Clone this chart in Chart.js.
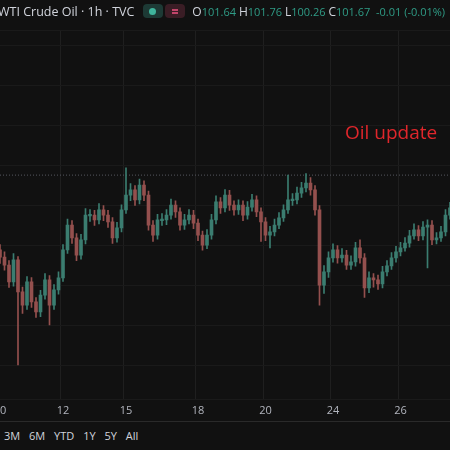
<!DOCTYPE html>
<html>
<head>
<meta charset="utf-8">
<script src="https://cdn.jsdelivr.net/npm/chart.js@4/dist/chart.umd.min.js"></script>
<style>
  html, body { margin: 0; padding: 0; background: #111111; }
  #wrap { position: relative; width: 450px; height: 450px; overflow: hidden; background: #111111;
          font-family: "Open Sans", "DejaVu Sans", sans-serif; }
  #chartBox { position: absolute; left: 0; top: 0; width: 450px; height: 421px; }
  .title { position: absolute; left: -2px; top: 3px; color: #d1d4dc; font-size: 12.5px; white-space: nowrap; }
  .title .dot { display: inline-block; width: 20px; height: 14px; border-radius: 4px; background: #1d3a35; vertical-align: -2px; margin-left: 9px; position: relative; }
  .title .dot:after { content: ""; position: absolute; left: 6px; top: 3.5px; width: 7px; height: 7px; border-radius: 50%; background: #3fb59c; }
  .title .eq { display: inline-block; width: 20px; height: 14px; border-radius: 4px; background: #3a1d25; vertical-align: -2px; margin-left: 2px; position: relative; }
  .title .eq:before, .title .eq:after { content: ""; position: absolute; left: 7px; width: 6px; height: 1.5px; background: #c2456a; }
  .title .eq:before { top: 5px; } .title .eq:after { top: 8px; }
  .title .ohlc { color: #2f9c86; margin-left: 7px; font-size: 11px; }
  .title .ohlc b { color: #d1d4dc; font-weight: normal; font-size: 12px; }
  .note { position: absolute; left: 345px; top: 119px; color: #e0262b; font-size: 19px; }
  .sep { position: absolute; left: 0; top: 421px; width: 450px; height: 1px; background: #2a2a2a; }
  .ranges { position: absolute; left: 4px; top: 428px; color: #d1d4dc; font-size: 11px; word-spacing: 6px; }
</style>
</head>
<body>
<div id="wrap">
  <div id="chartBox"><canvas id="c"></canvas></div>
  <div class="title">WTI Crude Oil · 1h · TVC<span class="dot"></span><span class="eq"></span><span class="ohlc"><b>O</b>101.64 <b>H</b>101.76 <b>L</b>100.26 <b>C</b>101.67 &nbsp;-0.01 (-0.01%)</span></div>
  <div class="note">Oil update</div>
  <div class="sep"></div>
  <div class="ranges">3M 6M YTD 1Y 5Y All</div>
</div>
<script>
// 시간축 라벨 (빈 문자열 = 라벨 없음)
const dayLabels = {0: '10', 14: '12', 28: '15', 44: '18', 59: '20', 74: '24', 89: '26'};

const firstOpen = 99.89;
const closes = [99.71, 99.51, 99.09, 99.64, 98.84, 98.51, 99.09, 98.59, 98.34, 98.76,
  99.14, 98.51, 98.89, 99.19, 99.89, 100.51, 100.19, 99.76, 100.14, 100.76,
  100.76, 100.64, 100.89, 100.76, 100.59, 100.19, 100.44, 100.89, 101.26, 101.39,
  101.14, 101.51, 101.26, 100.51, 100.26, 100.64, 100.64, 100.76, 101.01, 100.84,
  100.51, 100.64, 100.76, 100.56, 100.26, 100.01, 100.26, 100.64, 101.09, 100.94,
  101.26, 101.01, 100.89, 101.01, 100.76, 100.96, 101.14, 100.84, 100.59, 100.26,
  100.34, 100.51, 100.69, 100.89, 101.14, 101.14, 101.31, 101.44, 101.56, 101.39,
  100.89, 99.01, 99.34, 99.69, 99.89, 99.69, 99.76, 99.51, 99.59, 99.94,
  99.69, 98.94, 99.19, 99.14, 99.04, 99.34, 99.49, 99.69, 99.84, 99.94,
  100.06, 100.24, 100.39, 100.24, 100.46, 100.51, 100.14, 100.19, 100.34, 100.76, 100.94];
const highs = [100.02, 99.84, 99.62, 99.80, 99.72, 98.96, 99.22, 99.20, 98.70, 98.88,
  99.30, 99.25, 99.02, 99.34, 100.02, 100.66, 100.62, 100.30, 100.28, 100.92,
  100.90, 100.88, 101.05, 101.00, 100.88, 100.70, 100.58, 101.02, 101.94, 101.55,
  101.50, 101.66, 101.62, 101.36, 100.62, 100.78, 100.80, 100.90, 101.16, 101.12,
  100.94, 100.78, 100.90, 100.88, 100.66, 100.36, 100.40, 100.78, 101.24, 101.20,
  101.40, 101.38, 101.12, 101.14, 101.12, 101.10, 101.28, 101.24, 100.94, 100.70,
  100.48, 100.66, 100.82, 101.02, 101.76, 101.30, 101.46, 101.58, 101.80, 101.70,
  101.50, 101.00, 99.50, 99.84, 100.04, 100.00, 99.92, 99.88, 99.74, 100.08,
  100.14, 99.80, 99.34, 99.30, 99.26, 99.48, 99.62, 99.82, 99.98, 100.08,
  100.20, 100.38, 100.54, 100.50, 100.60, 100.64, 100.62, 100.32, 100.48, 100.90, 101.08];
const lows = [99.55, 99.38, 98.95, 98.98, 97.01, 98.30, 98.40, 98.45, 98.20, 98.22,
  98.66, 98.01, 98.40, 98.78, 99.10, 99.80, 100.05, 99.62, 99.66, 100.04,
  100.60, 100.50, 100.54, 100.62, 100.45, 100.05, 100.08, 100.34, 100.80, 101.12,
  101.00, 101.04, 101.12, 100.38, 100.10, 100.16, 100.50, 100.52, 100.66, 100.70,
  100.38, 100.40, 100.54, 100.42, 100.12, 99.88, 99.92, 100.16, 100.54, 100.80,
  100.84, 100.88, 100.76, 100.78, 100.62, 100.66, 100.86, 100.72, 100.10, 100.12,
  99.94, 100.24, 100.42, 100.60, 100.80, 101.00, 101.04, 101.20, 101.34, 101.26,
  100.76, 98.51, 98.80, 99.20, 99.58, 99.56, 99.58, 99.40, 99.40, 99.48,
  99.56, 98.70, 98.82, 98.96, 98.90, 98.94, 99.24, 99.40, 99.58, 99.74,
  99.86, 99.96, 100.16, 100.12, 100.14, 99.44, 100.02, 100.04, 100.10, 100.24, 100.66];
const lastHigh = 101.76; // 점선 기준가

const UP = '#3b7d70';
const DOWN = '#94504e';

const opens = closes.map((c, i) => i === 0 ? firstOpen : closes[i - 1]);
const labels = closes.map((c, i) => dayLabels[i] || '');
const colors = closes.map((c, i) => c >= opens[i] ? UP : DOWN);

new Chart(document.getElementById('c'), {
  type: 'bar',
  data: {
    labels: labels,
    datasets: [
      {
        label: 'wick',
        data: closes.map((c, i) => [lows[i], highs[i]]),
        backgroundColor: colors,
        barThickness: 1,
        grouped: false,
        order: 2
      },
      {
        label: 'body',
        data: closes.map((c, i) => opens[i] === c ? [c - 0.02, c + 0.02] : [opens[i], c]),
        backgroundColor: colors,
        barThickness: 3,
        grouped: false,
        order: 1
      },
      {
        type: 'line',
        label: 'high',
        data: closes.map(() => lastHigh),
        borderColor: '#55585f',
        borderWidth: 1,
        borderDash: [1, 2],
        pointRadius: 0,
        order: 3
      }
    ]
  },
  options: {
    animation: false,
    responsive: true,
    maintainAspectRatio: false,
    layout: { padding: { top: 30, left: 0, right: 0 } },
    plugins: { legend: { display: false }, tooltip: { enabled: false } },
    scales: {
      x: {
        offset: false,
        border: { display: false },
        grid: {
          color: ctx => (ctx.tick && ctx.tick.label) ? '#1f1f1f' : 'rgba(0,0,0,0)',
          drawTicks: false
        },
        ticks: {
          autoSkip: false,
          maxRotation: 0,
          color: '#b2b5be',
          font: { size: 11, family: 'Open Sans' },
          padding: 4
        },
        afterFit: s => { s.paddingLeft = 0; s.paddingRight = 0; }
      },
      y: {
        min: 96.14,
        max: 105.39,
        border: { display: false },
        grid: { color: '#1a1a1a', drawTicks: false },
        ticks: { display: false, stepSize: 1 },
        afterFit: axis => { axis.width = 0; }
      }
    }
  }
});
</script>
</body>
</html>
